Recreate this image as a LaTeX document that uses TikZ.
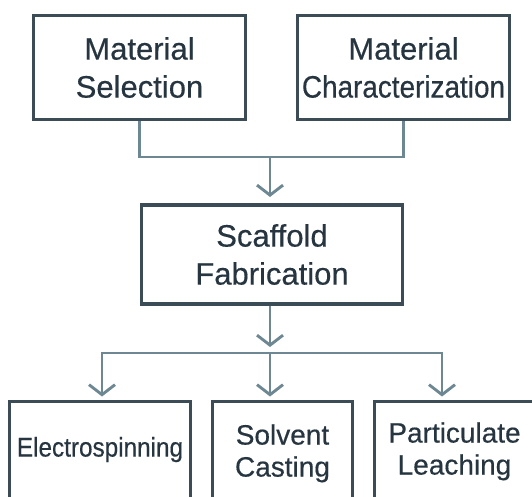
\documentclass[tikz,border=0pt]{standalone}
\usepackage{fontspec}
\setmainfont[FakeBold=0.4]{Liberation Sans}
\newfontfamily\narrowsans[FakeStretch=0.9,FakeBold=0.4]{Liberation Sans}
\usetikzlibrary{arrows.meta}

\definecolor{boxline}{HTML}{3C4C56}
\definecolor{boxtext}{HTML}{263540}
\definecolor{linkline}{HTML}{6E8893}

\begin{document}
\begin{tikzpicture}[%
    x=1pt, y=-1pt,
    >={Straight Barb[length=10pt,width=26pt]},
    box/.style={draw=boxline, line width=3.1pt, text=boxtext, align=center, inner sep=0pt},
    big/.style={font=\fontsize{31}{38}\selectfont},
    small/.style={font=\fontsize{28}{32}\selectfont},
    method/.style={box, small, anchor=north, text height=75pt, text depth=110pt},
    link/.style={draw=linkline, line width=2.9pt}
  ]
    \fill[white] (0,0) rectangle (532,497);
    \path[use as bounding box] (0,0) rectangle (532,497);
    \clip (0,0) rectangle (532,497);

    % first stage
    \node[box, big, minimum width=212pt, minimum height=104pt] (sel) at (139.5,67.5) {Material\\Selection};
    \node[box, big, minimum width=212pt, minimum height=104pt] (char) at (403.5,67.5) {Material\\{\narrowsans Characterization}};

    \node[box, big, minimum width=261pt, minimum height=99pt] (fab) at (272,254.5) {Scaffold\\Fabrication};

    % fabrication methods
    \node[method, minimum width=181pt, text height=55pt] (elec) at (100,400) {\narrowsans\fontsize{27}{32}\selectfont Electrospinning};
    \node[method, minimum width=140pt] (solv) at (282.5,400) {Solvent\\Casting};
    \node[method, minimum width=160pt, text height=73pt] (part) at (454.5,400) {Particulate\\Leaching};

    \coordinate (join) at (270,157);
    \coordinate (split) at (270,353);

    \draw[link] (sel.south) |- (join) -| (char.south);
    \draw[link, ->, shorten >=6.5pt] (join) -- (join |- fab.north);
    \draw[link, ->, shorten >=6pt] (join |- fab.south) -- (split);
    \draw[link, ->, shorten >=3.5pt] (split) -| ([xshift=2pt]elec.north);
    \draw[link, ->, shorten >=3.5pt] (split) -- ([xshift=-12.5pt]solv.north);
    \draw[link, ->, shorten >=3.5pt] (split) -| ([xshift=-12.5pt]part.north);
\end{tikzpicture}
\end{document}
